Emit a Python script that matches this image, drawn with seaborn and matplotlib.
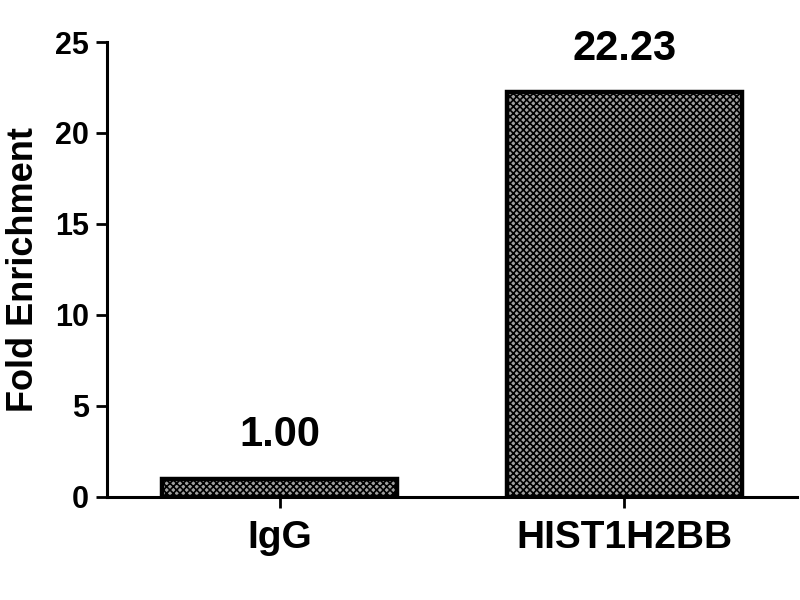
import pandas as pd
import numpy as np
import matplotlib
matplotlib.use("Agg")
import matplotlib.pyplot as plt
import seaborn as sns

# Datos
categorias = ["IgG", "HIST1H2BB"]
enriquecimiento = [1.00, 22.23]
etiquetas = ["1.00", "22.23"]
yticks = [0, 5, 10, 15, 20, 25]

data = pd.DataFrame({"Muestra": categorias, "Fold": enriquecimiento})

sns.set_style("ticks")
plt.rcParams['font.family'] = ['Liberation Sans', 'DejaVu Sans']
plt.rcParams['font.weight'] = 'bold'
plt.rcParams['text.color'] = 'black'
plt.rcParams['axes.labelcolor'] = 'black'
plt.rcParams['xtick.color'] = 'black'
plt.rcParams['ytick.color'] = 'black'
plt.rcParams['axes.edgecolor'] = 'black'
plt.rcParams['hatch.linewidth'] = 1.2
plt.rcParams['hatch.color'] = 'black'

fig = plt.figure(figsize=(8, 6), dpi=100)
ax = fig.add_axes([0.134, 0.172, 0.862, 0.758])

sns.barplot(data=data, x="Muestra", y="Fold", ax=ax, color="#a0a0a0",
            edgecolor="black", linewidth=3.2, width=0.68, saturation=1)
for p in ax.patches:
    p.set_hatch("xxxxx")

# Valores sobre las barras
for i, (v, t) in enumerate(zip(enriquecimiento, etiquetas)):
    ax.annotate(t, (i, v), xytext=(0, 17), textcoords="offset points",
                ha="center", va="bottom", fontsize=30, fontweight="bold")

ax.set_xlim(-0.5, 1.5)
ax.set_ylim(0, 25)
ax.set_yticks(yticks)
ax.set_xlabel("")
ax.set_ylabel("Fold Enrichment", fontsize=26, fontweight="bold", labelpad=10)
ax.tick_params(axis="y", labelsize=22, width=2, length=8, direction="out", pad=5)
ax.tick_params(axis="x", labelsize=28, width=2, length=8, direction="out", pad=9)
for lab in ax.get_xticklabels() + ax.get_yticklabels():
    lab.set_fontweight("bold")
for s in ["left", "bottom"]:
    ax.spines[s].set_linewidth(2.2)
sns.despine(ax=ax)

fig.savefig("out.png", dpi=100)
